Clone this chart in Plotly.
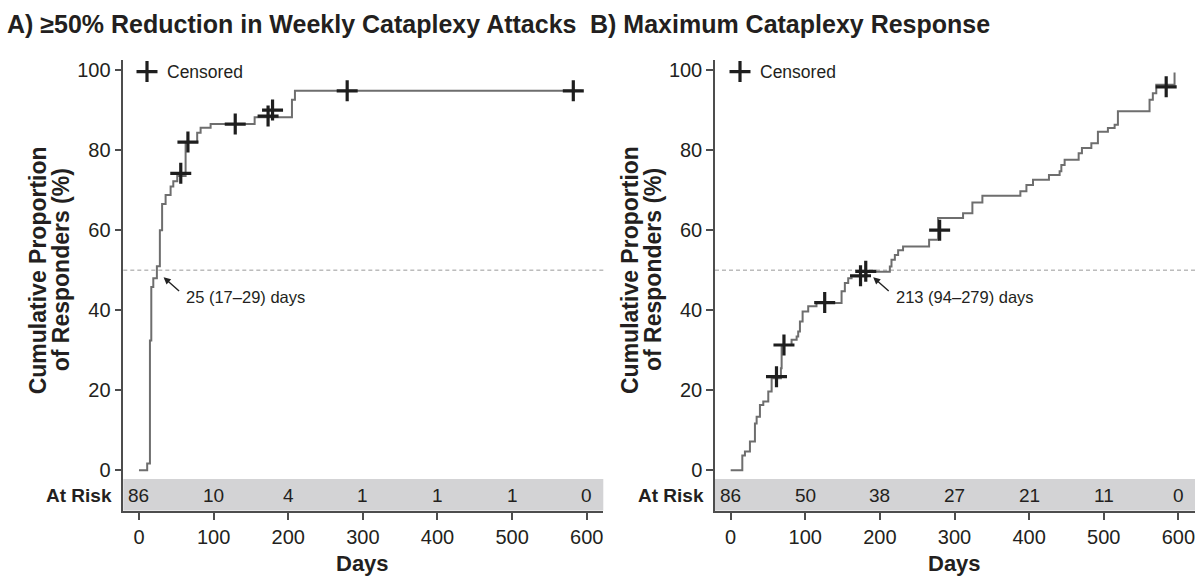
import plotly.graph_objects as go

W, H = 1199, 577
FONT = "Liberation Sans, Arial, sans-serif"
TXT = "#231f20"
AXC = "#4d4d4d"

# ---------------- data ----------------
# Panel A: >=50% reduction in weekly cataplexy attacks (KM step curve)
days_a = [0, 11, 14.7, 16.5, 19.2, 24, 28, 31, 35.7, 42.4, 46, 51.3, 62.5, 78, 82.6, 96,
          155, 205, 209, 593]
resp_a = [0, 1.7, 32.4, 45.8, 48, 51, 60, 66.5, 68.8, 70.9, 72.2, 73.5, 82, 84.3, 85.6, 86.5,
          88.2, 92.6, 94.8, 94.8]
cens_days_a = [56, 65.6, 129, 173, 179, 279, 582]
cens_resp_a = [74.2, 82, 86.5, 88.5, 90, 94.8, 94.8]

# Panel B: maximum cataplexy response
days_b = [0, 15.6, 19.1, 25.8, 32.5, 34.8, 39.2, 43.7, 50.4, 54.9, 67.3, 68.3, 81.6, 88.4,
          90.5, 92.8, 96.4, 103.9, 115, 148.6, 153, 157.5, 162, 182, 213.3, 215.5, 220,
          224.4, 231, 265.9, 277.9, 311.4, 323.9, 337.3, 388.2, 396.3, 405.1, 426.5,
          440.8, 443.1, 447.5, 466.3, 470.7, 483.3, 492.1, 505.5, 514.5, 518.9, 561.3,
          565.7, 570.3, 594.8]
resp_b = [0, 3.7, 4.7, 7.2, 11.7, 13.4, 16.3, 17.2, 19.7, 23, 25.5, 31.3, 32.6, 33.4,
          34.7, 37.2, 39.7, 41, 41.8, 44.7, 46.8, 48, 48.4, 49.6, 50.9, 52.6, 53.8,
          55, 55.9, 57.6, 63, 64.2, 66.9, 68.6, 69.7, 71.3, 72.6, 73.8,
          74.7, 76.3, 77.6, 79.2, 80.5, 81.7, 84.6, 85.5, 86.3, 89.7, 92.6,
          94.2, 96.3, 99.4]
cens_days_b = [61.4, 71.4, 126, 174, 181, 280, 583.6]
cens_resp_b = [23.4, 31.3, 41.9, 48.6, 49.7, 60, 95.8]

risk_days = [0, 100, 200, 300, 400, 500, 600]
risk_a = [86, 10, 4, 1, 1, 1, 0]
risk_b = [86, 50, 38, 27, 21, 11, 0]

x_ticks = [0, 100, 200, 300, 400, 500, 600]
y_ticks = [0, 20, 40, 60, 80, 100]

title_a = "A) ≥50% Reduction in Weekly Cataplexy Attacks"
title_b = "B) Maximum Cataplexy Response"
median_a = "25 (17–29) days"
median_b = "213 (94–279) days"
median_level = 50

# ---------------- layout helpers ----------------
def fx(p):
    return p / W

def fy(p):
    return 1 - p / H

X_RANGE = [-21.0, 622.2]
Y_RANGE = [-10.09, 102.5]
BAND = [-10.09, -2.2]
RISK_Y = -6.3

fig = go.Figure()

line_style = dict(shape="hv", color="#6e6e6e", width=2)
cens_marker = dict(symbol="cross-thin", size=15, line=dict(width=3.2, color="#1e1e1e"),
                   color="#1e1e1e")

fig.add_trace(go.Scatter(x=days_a, y=resp_a, mode="lines", line=line_style,
                         xaxis="x", yaxis="y", showlegend=False, hoverinfo="skip"))
fig.add_trace(go.Scatter(x=cens_days_a, y=cens_resp_a, mode="markers", marker=cens_marker,
                         xaxis="x", yaxis="y", name="Censored", legend="legend",
                         showlegend=True))
fig.add_trace(go.Scatter(x=days_b, y=resp_b, mode="lines", line=line_style,
                         xaxis="x2", yaxis="y2", showlegend=False, hoverinfo="skip"))
fig.add_trace(go.Scatter(x=cens_days_b, y=cens_resp_b, mode="markers", marker=cens_marker,
                         xaxis="x2", yaxis="y2", name="Censored", legend="legend2",
                         showlegend=True))

def xaxis(dom, anchor):
    return dict(domain=dom, range=X_RANGE, anchor=anchor, tickvals=x_ticks,
                ticks="outside", ticklen=8, tickwidth=1.5, tickcolor=AXC,
                showline=True, linecolor=AXC, linewidth=1.5, showgrid=False,
                zeroline=False, tickfont=dict(size=20, color=TXT, family=FONT),
                automargin=False, fixedrange=True)

def yaxis(anchor):
    return dict(domain=[fy(510.7), fy(60)], range=Y_RANGE, anchor=anchor, tickvals=y_ticks,
                ticks="outside", ticklen=7, tickwidth=1.5, tickcolor=AXC,
                showline=True, linecolor=AXC, linewidth=1.5, showgrid=False,
                zeroline=False, tickfont=dict(size=20, color=TXT, family=FONT),
                automargin=False, fixedrange=True)

LEFT_DOM = [fx(123.3), fx(603.3)]
RIGHT_DOM = [fx(715), fx(1195)]

shapes = []
annotations = []
for xa, ya, risk, yt_x, title, tx, med_txt, tip_day, txt_day in [
    ("x", "y", risk_a, 123.3, title_a, 5, median_a, 33, 61),
    ("x2", "y2", risk_b, 715, title_b, 588, median_b, 191, 219),
]:
    shapes.append(dict(type="rect", xref=f"{xa} domain", yref=ya, x0=0, x1=1,
                       y0=BAND[0], y1=BAND[1], fillcolor="#d3d3d5", line=dict(width=0),
                       layer="below"))
    shapes.append(dict(type="line", xref=f"{xa} domain", yref=ya, x0=0, x1=1,
                       y0=median_level, y1=median_level,
                       line=dict(color="#999999", width=1, dash="4px,3px"), layer="below"))
    for d, n in zip(risk_days, risk):
        annotations.append(dict(x=d, y=RISK_Y, xref=xa, yref=ya, text=str(n),
                                showarrow=False, font=dict(size=19, color=TXT, family=FONT)))
    annotations.append(dict(x=fx(yt_x - 9), y=RISK_Y, xref="paper", yref=ya,
                            text="<b>At Risk</b>", xanchor="right", showarrow=False,
                            font=dict(size=19, color=TXT, family=FONT)))
    annotations.append(dict(x=300, y=fy(563), xref=xa, yref="paper", text="<b>Days</b>",
                            yanchor="middle", showarrow=False,
                            font=dict(size=22, color=TXT, family=FONT)))
    annotations.append(dict(x=fx(tx), y=fy(24), xref="paper", yref="paper",
                            text=f"<b>{title}</b>", xanchor="left", yanchor="middle",
                            showarrow=False, font=dict(size=25, color=TXT, family=FONT)))
    annotations.append(dict(x=fx(yt_x - 85), y=fy(270), xref="paper", yref="paper",
                            text="<b>Cumulative Proportion</b>", textangle=-90,
                            xanchor="center", yanchor="middle",
                            showarrow=False, font=dict(size=23, color=TXT, family=FONT)))
    annotations.append(dict(x=fx(yt_x - 62), y=fy(270), xref="paper", yref="paper",
                            text="<b>of Responders (%)</b>", textangle=-90,
                            xanchor="center", yanchor="middle",
                            showarrow=False, font=dict(size=23, color=TXT, family=FONT)))
    annotations.append(dict(x=tip_day, y=48.2, xref=xa, yref=ya, text="", showarrow=True,
                            ax=17, ay=15, arrowhead=2, arrowsize=1, arrowwidth=1.4,
                            arrowcolor="#222222"))
    annotations.append(dict(x=txt_day, y=43.4, xref=xa, yref=ya, text=med_txt,
                            xanchor="left", yanchor="middle", showarrow=False,
                            font=dict(size=16.5, color=TXT, family=FONT)))

legend_common = dict(xanchor="left", yanchor="middle", bgcolor="rgba(0,0,0,0)",
                     borderwidth=0, font=dict(size=17.5, color=TXT, family=FONT),
                     itemclick=False, itemdoubleclick=False)

fig.update_layout(
    width=W, height=H,
    margin=dict(l=0, r=0, t=0, b=0),
    paper_bgcolor="white", plot_bgcolor="white",
    font=dict(family=FONT, color=TXT),
    xaxis=xaxis(LEFT_DOM, "y"),
    yaxis=yaxis("x"),
    xaxis2=xaxis(RIGHT_DOM, "y2"),
    yaxis2=yaxis("x2"),
    shapes=shapes,
    annotations=annotations,
    legend=dict(x=fx(127), y=fy(71.7), **legend_common),
    legend2=dict(x=fx(720), y=fy(71.7), **legend_common),
)

fig.write_html("out.html")
